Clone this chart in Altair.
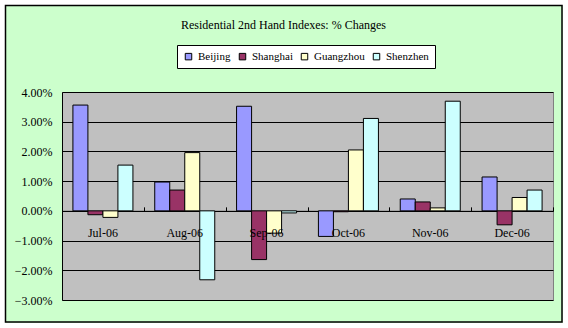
import altair as alt
import pandas as pd

FONT = "Liberation Serif"

title_text = "Residential 2nd Hand Indexes: % Changes"
months = ["Jul-06", "Aug-06", "Sep-06", "Oct-06", "Nov-06", "Dec-06"]
cities = ["Beijing", "Shanghai", "Guangzhou", "Shenzhen"]
beijing = [0.0356, 0.0097, 0.0352, -0.0086, 0.0040, 0.0114]
shanghai = [-0.0013, 0.0070, -0.0164, -0.0003, 0.0030, -0.0047]
guangzhou = [-0.0022, 0.0196, -0.0075, 0.0205, 0.0010, 0.0045]
shenzhen = [0.0154, -0.0232, -0.0007, 0.0311, 0.0369, 0.0070]
colors = ["#9999FF", "#993366", "#FFFFCC", "#CCFFFF"]
y_ticks = [-0.03, -0.02, -0.01, 0.0, 0.01, 0.02, 0.03, 0.04]

series = [beijing, shanghai, guangzhou, shenzhen]
rows = []
for city, vals in zip(cities, series):
    for m, v in zip(months, vals):
        rows.append({"month": m, "city": city, "value": v})
df = pd.DataFrame(rows)

W, H = 491, 208
PL, PT = 62, 92
ymin, ymax = -0.03, 0.04
zero_from_top = H * ymax / (ymax - ymin)

yscale = alt.Scale(domain=[ymin, ymax], nice=False, zero=False)
xscale = alt.Scale(paddingInner=0, paddingOuter=0)
yaxis = alt.Axis(values=y_ticks, format=".2%", title=None, grid=True,
                 gridColor="black", gridWidth=1, domainColor="black",
                 ticks=False, labelPadding=10, labelFont=FONT,
                 labelFontSize=12, labelColor="black", labelOverlap=False,
                 labelFlush=False)

bars = alt.Chart(df).mark_bar(stroke="black", strokeWidth=1).encode(
    x=alt.X("month:N", sort=months, scale=xscale,
            axis=alt.Axis(orient="top", offset=-zero_from_top, labels=False, title=None,
                          ticks=True, tickBand="extent", tickSize=4, tickColor="black",
                          domainColor="black", domainWidth=1, grid=False)),
    xOffset=alt.XOffset("city:N", sort=cities,
                        scale=alt.Scale(paddingInner=0, paddingOuter=0.727)),
    y=alt.Y("value:Q", scale=yscale, axis=yaxis),
    color=alt.Color("city:N", sort=cities,
                    scale=alt.Scale(domain=cities, range=colors),
                    legend=alt.Legend(title=None, orient="none", legendX=115, legendY=-47,
                                      direction="horizontal", fillColor="white",
                                      strokeColor="black", padding=6,
                                      symbolType="square", symbolSize=42,
                                      symbolStrokeColor="black", symbolStrokeWidth=1,
                                      labelFont=FONT, labelFontSize=11, labelColor="black",
                                      labelOffset=4, columnPadding=6)),
)

cat_labels = alt.Chart(pd.DataFrame({"month": months})).mark_text(
    dy=22, font=FONT, fontSize=12, color="black", baseline="middle"
).encode(
    x=alt.X("month:N", sort=months),
    y=alt.YDatum(0, type="quantitative", scale=yscale, axis=yaxis),
    text="month:N",
)

one = pd.DataFrame({"a": [0]})

title = alt.Chart(one).mark_text(
    font=FONT, fontSize=12, color="black", baseline="middle", align="center"
).encode(
    x=alt.value((5 + 562) / 2 - PL), y=alt.value(25 - PT), text=alt.value(title_text)
)

margin = alt.Chart(one).mark_rect(filled=False, stroke="white", strokeWidth=10).encode(
    x=alt.value(-PL), x2=alt.value(568 - PL), y=alt.value(-PT), y2=alt.value(328 - PT)
)

border = alt.Chart(one).mark_rect(filled=False, stroke="black", strokeWidth=1.5).encode(
    x=alt.value(5.5 - PL), x2=alt.value(562 - PL), y=alt.value(5.5 - PT), y2=alt.value(322 - PT)
)

chart = alt.layer(bars, cat_labels, title, margin, border).properties(
    width=W, height=H,
    autosize=alt.AutoSizeParams(type="none"),
    padding={"left": PL, "top": PT, "right": 568 - PL - W, "bottom": 328 - PT - H},
    background="#CCFFCC",
).configure_view(fill="#C0C0C0", stroke="#808080", strokeWidth=1)

chart.save("out.html", embed_options={"renderer": "svg", "actions": False})
